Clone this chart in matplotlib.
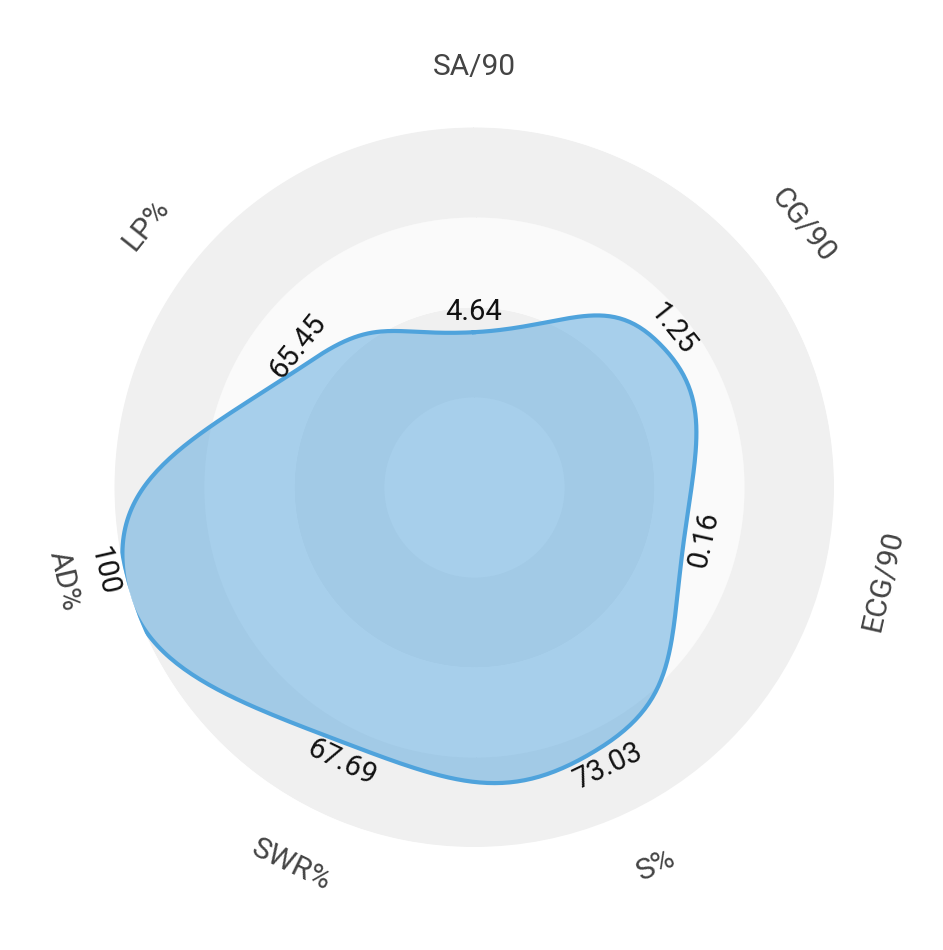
import numpy as np
import matplotlib
matplotlib.use('Agg')
from matplotlib import pyplot as plt

# Axes clockwise from the top
categories = ['SA/90', 'CG/90', 'ECG/90', 'S%', 'SWR%', 'AD%', 'LP%']
raw_values = ['4.64', '1.25', '0.16', '73.03', '67.69', '100', '65.45']
# Normalised radius of each point (outer ring = 1)
scaled = [0.43, 0.65, 0.60, 0.805, 0.795, 1.00, 0.57]

ring_edges = [0, 0.25, 0.5, 0.75, 1.0]
ring_colors = ['#fafafa', '#f0f0f0', '#fafafa', '#f0f0f0']

plt.rcParams['font.family'] = ['Roboto', 'DejaVu Sans']

W, H, dpi = 943, 950, 100
cx, cy, R = 474, 487, 360  # centre and radius in pixels

fig = plt.figure(figsize=(W / dpi, H / dpi), dpi=dpi)
ax = fig.add_axes([(cx - R) / W, (H - cy - R) / H, 2 * R / W, 2 * R / H],
                  projection='polar')
ax.set_ylim(0, 1)
ax.set_axis_off()

# background rings
t = np.linspace(0, 2 * np.pi, 500)
for r0, r1, c in zip(ring_edges[:-1], ring_edges[1:], ring_colors):
    ax.fill_between(t, r0, r1, color=c, lw=0, zorder=1)

n = len(categories)
angles = np.pi / 2 - np.arange(n) * 2 * np.pi / n


def spline_loop(angles, radii, tension=0.5, steps=60):
    # closed bezier spline through the points (Chart.js style control points)
    pts = np.column_stack([np.cos(angles) * radii, np.sin(angles) * radii])
    m = len(pts)
    ctrl_prev, ctrl_next = [], []
    for i in range(m):
        p0, p1, p2 = pts[i - 1], pts[i], pts[(i + 1) % m]
        d01 = np.hypot(*(p1 - p0))
        d12 = np.hypot(*(p2 - p1))
        s01 = d01 / (d01 + d12)
        s12 = d12 / (d01 + d12)
        ctrl_prev.append(p1 - tension * s01 * (p2 - p0))
        ctrl_next.append(p1 + tension * s12 * (p2 - p0))
    u = np.linspace(0, 1, steps, endpoint=False)[:, None]
    out = []
    for i in range(m):
        a, b = pts[i], pts[(i + 1) % m]
        c1, c2 = ctrl_next[i], ctrl_prev[(i + 1) % m]
        out.append((1 - u) ** 3 * a + 3 * (1 - u) ** 2 * u * c1
                   + 3 * (1 - u) * u ** 2 * c2 + u ** 3 * b)
    out = np.vstack(out + [pts[:1]])
    return np.arctan2(out[:, 1], out[:, 0]), np.hypot(out[:, 0], out[:, 1])


th, rr = spline_loop(angles, np.array(scaled))
ax.fill(th, rr, color='#56a6de', alpha=0.5, lw=0, zorder=2)
ax.plot(th, rr, color='#4fa3dc', lw=3, zorder=3, solid_joinstyle='round')


def tangent_rot(a):
    rot = np.degrees(a) - 90
    while rot <= -90:
        rot += 180
    while rot > 90:
        rot -= 180
    return rot


for a, r, lab, cat in zip(angles, scaled, raw_values, categories):
    rot = tangent_rot(a)
    ax.text(a, r + 0.055, lab, rotation=rot, rotation_mode='anchor',
            ha='center', va='center', fontsize=21, color='#111111',
            zorder=4, clip_on=False)
    ax.text(a, 1.167, cat, rotation=rot, rotation_mode='anchor',
            ha='center', va='center', fontsize=21.5, color='#444444',
            clip_on=False)

fig.savefig('out.png', dpi=dpi, facecolor='white')
